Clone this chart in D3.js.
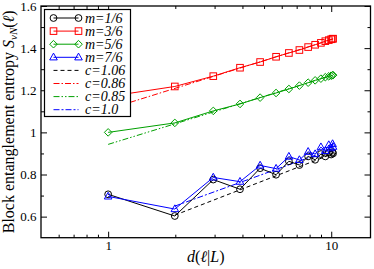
<!DOCTYPE html>
<html><head><meta charset="utf-8">
<script src="https://cdn.jsdelivr.net/npm/d3@7"></script>
<style>body{margin:0;background:#fff}svg{display:block}</style>
</head><body>
<script>
// ---- data ----
const dVals = [1.0, 1.99, 2.96, 3.90, 4.80, 5.66, 6.46, 7.20, 7.88, 8.47, 8.99, 9.41, 9.75, 9.99, 10.14, 10.19];
const m1Vals = [0.706, 0.603, 0.776, 0.730, 0.830, 0.799, 0.863, 0.845, 0.886, 0.870, 0.897, 0.886, 0.904, 0.895, 0.906, 0.900];
const m3Vals = [1.170, 1.218, 1.267, 1.307, 1.334, 1.359, 1.377, 1.391, 1.405, 1.416, 1.425, 1.433, 1.438, 1.442, 1.444, 1.445];
const m5Vals = [1.000, 1.045, 1.102, 1.135, 1.165, 1.187, 1.206, 1.222, 1.236, 1.247, 1.255, 1.262, 1.266, 1.269, 1.271, 1.272];
const m7Vals = [0.696, 0.636, 0.786, 0.766, 0.843, 0.828, 0.885, 0.869, 0.908, 0.897, 0.930, 0.912, 0.940, 0.925, 0.945, 0.932];
const seriesNames = ["m=1/6", "m=3/6", "m=5/6", "m=7/6"];
const fitNames = ["c=1.06", "c=0.86", "c=0.85", "c=1.0"];
const fit106X = [1.99, 10.19], fit106Y = [0.607, 0.899];
const fit086X = [1.0, 10.19], fit086Y = [1.110, 1.443];
const fit085X = [1.0, 10.19], fit085Y = [0.943, 1.272];
const fit100X = [1.99, 10.19], fit100Y = [0.650, 0.922];
const xMajor = [1, 10];
const xMinor = [0.6, 0.7, 0.8, 0.9, 2, 3, 4, 5, 6, 7, 8, 9];
const yMajor = [0.6, 0.8, 1.0, 1.2, 1.4, 1.6];
const yMinor = [0.7, 0.9, 1.1, 1.3, 1.5];

// ---- layout ----
const W = 374, H = 269;
const L = 41, R = 370.5, T = 6, B = 237.7;
const FONT = "'Liberation Serif','Times New Roman',serif";
const svg = d3.select("body").append("svg").attr("width", W).attr("height", H);
const x = d3.scaleLog().domain([0.5, 15]).range([L, R]);
const y = d3.scaleLinear().domain([0.5, 1.6]).range([B, T]);

// ticks
function ax(gen, tx, ty, vals, size, labels, pad) {
  const g = svg.append("g").attr("transform", `translate(${tx},${ty})`)
    .call(gen.tickValues(vals).tickSizeInner(-size).tickSizeOuter(0).tickPadding(pad || 3)
      .tickFormat(labels ? (d => d3.format("~g")(d)) : () => ""));
  g.select(".domain").remove();
  g.selectAll("line").attr("stroke", "#000").attr("stroke-width", 1);
  g.selectAll("text").attr("font-family", FONT).attr("font-size", 13).attr("fill", "#000");
  return g;
}
ax(d3.axisBottom(x), 0, B, xMajor, 6, true, 3);
ax(d3.axisBottom(x), 0, B, xMinor, 3, false);
ax(d3.axisTop(x), 0, T, xMajor, 6, false);
ax(d3.axisTop(x), 0, T, xMinor, 3, false);
ax(d3.axisLeft(y), L, 0, yMajor, 6, true, 4.5);
ax(d3.axisLeft(y), L, 0, yMinor, 3, false);
ax(d3.axisRight(y), R, 0, yMajor, 6, false);
ax(d3.axisRight(y), R, 0, yMinor, 3, false);

// ---- data layers ----
const plot = svg.append("g");
const line = d3.line().x(d => x(d[0])).y(d => y(d[1]));
const fits = [
  {X: fit106X, Y: fit106Y, color: "#000", dash: "4,3"},
  {X: fit086X, Y: fit086Y, color: "#ff0000", dash: "6,2,1.5,2"},
  {X: fit085X, Y: fit085Y, color: "#00a000", dash: "6,2,1.5,2,1.5,2"},
  {X: fit100X, Y: fit100Y, color: "#0000ff", dash: "6,2,2,2"}
];
fits.forEach(f => {
  plot.append("path").datum(f.X.map((v, i) => [v, f.Y[i]]))
    .attr("d", line).attr("fill", "none").attr("stroke", f.color)
    .attr("stroke-width", 1).attr("stroke-dasharray", f.dash);
});

const sym = {
  circle: (g, c) => g.append("circle").attr("r", 3.4),
  square: (g, c) => g.append("rect").attr("x", -3.3).attr("y", -3.3).attr("width", 6.6).attr("height", 6.6),
  diamond: (g, c) => g.append("path").attr("d", "M0,-3.8L3.8,0L0,3.8L-3.8,0Z"),
  triangle: (g, c) => g.append("path").attr("d", "M0,-4.2L3.8,2.6L-3.8,2.6Z")
};
const series = [
  {vals: m1Vals, color: "#000", s: "circle"},
  {vals: m3Vals, color: "#ff0000", s: "square"},
  {vals: m5Vals, color: "#00a000", s: "diamond"},
  {vals: m7Vals, color: "#0000ff", s: "triangle"}
];
series.forEach(se => {
  const pts = dVals.map((d, i) => [d, se.vals[i]]);
  plot.append("path").datum(pts).attr("d", line).attr("fill", "none")
    .attr("stroke", se.color).attr("stroke-width", 1);
  plot.selectAll(null).data(pts).enter().append("g")
    .attr("transform", d => `translate(${x(d[0])},${y(d[1])})`)
    .each(function () { sym[se.s](d3.select(this)).attr("fill", "none").attr("stroke", se.color).attr("stroke-width", 1); });
});

// frame
svg.append("rect").attr("x", L).attr("y", T).attr("width", R - L).attr("height", B - T)
  .attr("fill", "none").attr("stroke", "#000").attr("stroke-width", 1.3);

// ---- legend ----
const lg = svg.append("g");
lg.append("rect").attr("x", 44.5).attr("y", 9.5).attr("width", 86).attr("height", 107)
  .attr("fill", "#fff").attr("stroke", "#000").attr("stroke-width", 1.2);
const rowY = i => 18 + i * 13.1;
const legendItems = series.map((se, i) => ({name: seriesNames[i], color: se.color, s: se.s, dash: null}))
  .concat(fits.map((f, i) => ({name: fitNames[i], color: f.color, s: null, dash: f.dash})));
legendItems.forEach((it, i) => {
  const yy = rowY(i);
  lg.append("line").attr("x1", 53.5).attr("x2", 78.5).attr("y1", yy).attr("y2", yy)
    .attr("stroke", it.color).attr("stroke-width", 1).attr("stroke-dasharray", it.dash);
  if (it.s) {
    [53.5, 78.5].forEach(xx => {
      const g = lg.append("g").attr("transform", `translate(${xx},${yy})`);
      sym[it.s](g).attr("fill", "none").attr("stroke", it.color).attr("stroke-width", 1);
    });
  }
  lg.append("text").attr("x", 85).attr("y", yy + 4.5).attr("font-family", FONT)
    .attr("font-style", "italic").attr("font-size", 14).attr("fill", "#000").text(it.name);
});

// ---- axis titles ----
const xt = svg.append("text").attr("x", (L + R) / 2).attr("y", 262).attr("text-anchor", "middle")
  .attr("font-family", FONT).attr("font-size", 16).attr("fill", "#000");
xt.append("tspan").attr("font-style", "italic").text("d");
xt.append("tspan").text("(");
xt.append("tspan").attr("font-style", "italic").text("ℓ");
xt.append("tspan").text("|");
xt.append("tspan").attr("font-style", "italic").text("L");
xt.append("tspan").text(")");

const yt = svg.append("text").attr("transform", `translate(14,${(T + B) / 2}) rotate(-90)`)
  .attr("text-anchor", "middle").attr("font-family", FONT).attr("font-size", 16).attr("fill", "#000");
yt.append("tspan").text("Block entanglement entropy ");
yt.append("tspan").attr("font-style", "italic").text("S");
yt.append("tspan").attr("font-style", "italic").attr("font-size", 11).attr("dy", 3).text("vN");
yt.append("tspan").attr("dy", -3).text("(");
yt.append("tspan").attr("font-style", "italic").text("ℓ");
yt.append("tspan").text(")");
</script>
</body></html>
